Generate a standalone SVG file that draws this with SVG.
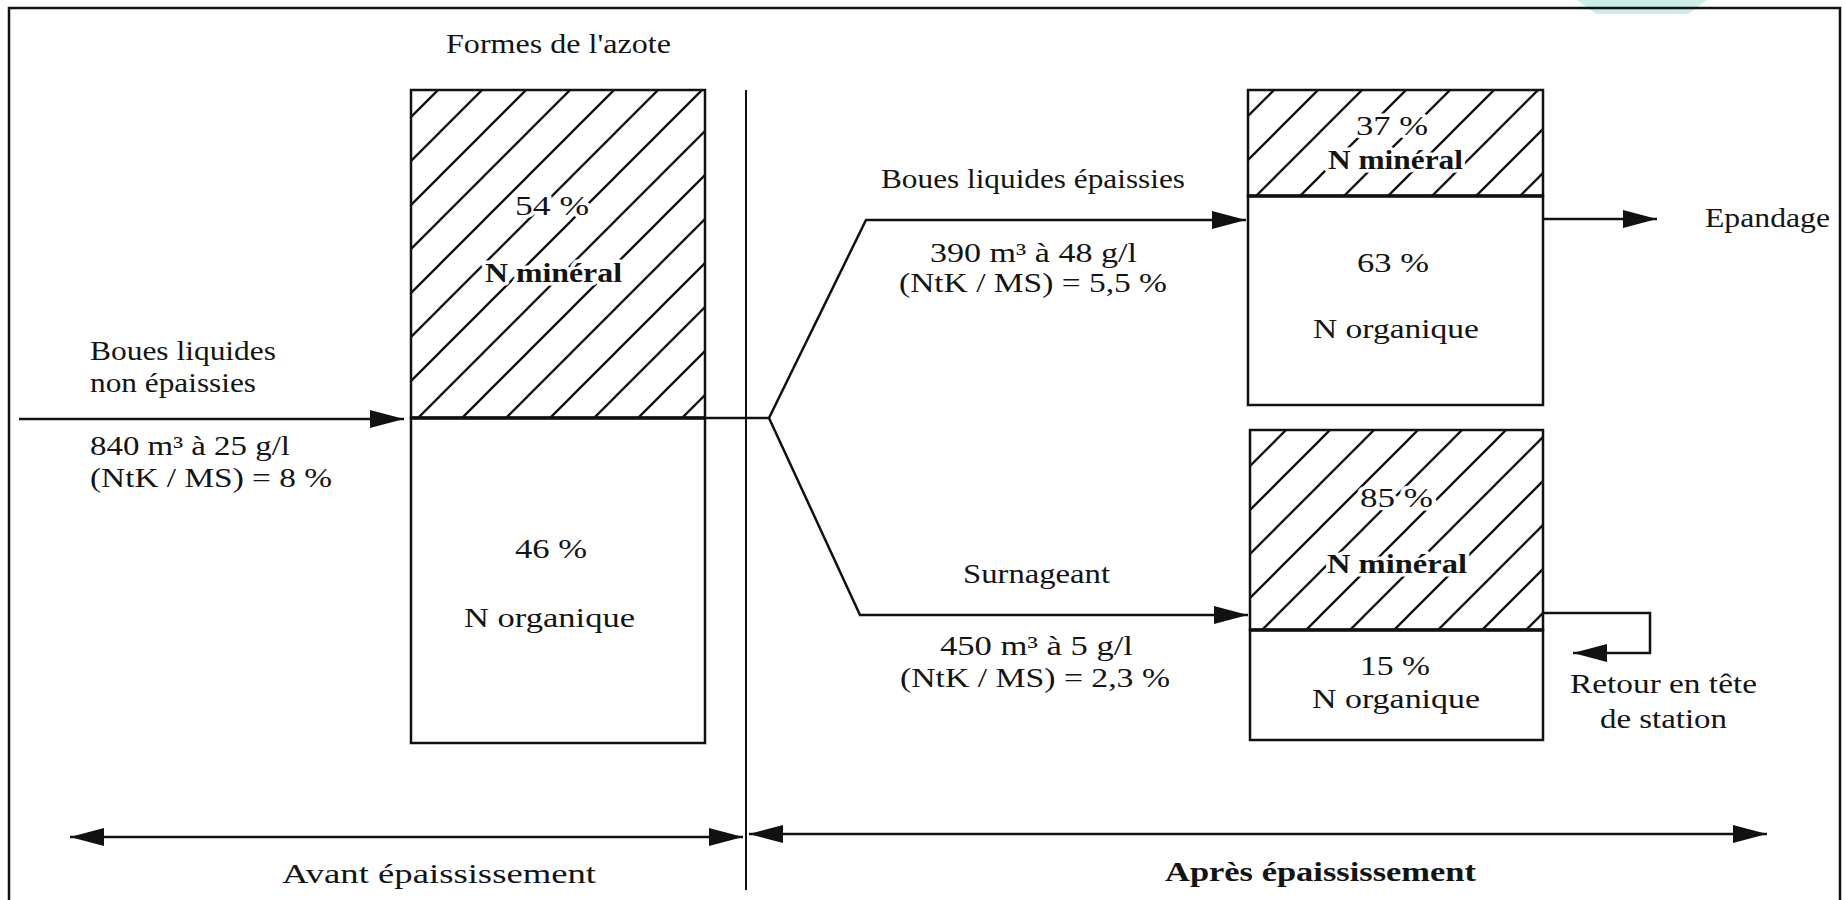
<svg xmlns="http://www.w3.org/2000/svg" width="1845" height="900" viewBox="0 0 1845 900">
<style>
.t{font-family:"Liberation Serif","Times New Roman",serif;font-size:27px;fill:#141414}
.b{font-weight:bold}
.h{paint-order:stroke;stroke:#fff;stroke-width:7px;stroke-linejoin:round}
.box{fill:#fff;stroke:#111;stroke-width:2.5}
.hat{fill:url(#hatch);stroke:#111;stroke-width:2.5}
.sep{stroke:#111;stroke-width:3.5}
.ln{fill:none;stroke:#111;stroke-width:2.5}
</style>
<defs>
<pattern id="hatch" patternUnits="userSpaceOnUse" width="44" height="44">
<rect width="44" height="44" fill="#fff"/>
<path d="M0,44 L44,0 M-11,11 L11,-11 M33,55 L55,33" stroke="#111" stroke-width="2.3"/>
</pattern>
<marker id="ah" markerUnits="userSpaceOnUse" markerWidth="36" markerHeight="18" refX="34" refY="9" orient="auto-start-reverse">
<path d="M0,0 L34,9 L0,18 z" fill="#111"/>
</marker>
</defs>
<rect width="1845" height="900" fill="#fff"/>
<polygon points="1577,0 1707,0 1688,14 1596,14" fill="#cdeee6"/>
<rect x="9" y="8" width="1831" height="920" fill="none" stroke="#111" stroke-width="2.5"/>
<line x1="746" y1="90" x2="746" y2="890" stroke="#111" stroke-width="2"/>
<text class="t" x="446" y="53" textLength="225" lengthAdjust="spacingAndGlyphs">Formes de l'azote</text>

<g id="box-avant">
<rect class="hat" x="411" y="90" width="294" height="328"/>
<rect class="box" x="411" y="418" width="294" height="325"/>
<line class="sep" x1="411" y1="418" x2="705" y2="418"/>
<text class="t h" x="515" y="215" textLength="74" lengthAdjust="spacingAndGlyphs">54 %</text>
<text class="t b h" x="485" y="282" textLength="137" lengthAdjust="spacingAndGlyphs">N minéral</text>
<text class="t" x="515" y="558" textLength="72" lengthAdjust="spacingAndGlyphs">46 %</text>
<text class="t" x="464" y="627" textLength="171" lengthAdjust="spacingAndGlyphs">N organique</text>
</g>

<g id="box-boues">
<rect class="hat" x="1248" y="90" width="295" height="106"/>
<rect class="box" x="1248" y="196" width="295" height="209"/>
<line class="sep" x1="1248" y1="196" x2="1543" y2="196"/>
<text class="t h" x="1356" y="135" textLength="72" lengthAdjust="spacingAndGlyphs">37 %</text>
<text class="t b h" x="1328" y="169" textLength="135" lengthAdjust="spacingAndGlyphs">N minéral</text>
<text class="t" x="1357" y="272" textLength="72" lengthAdjust="spacingAndGlyphs">63 %</text>
<text class="t" x="1313" y="338" textLength="166" lengthAdjust="spacingAndGlyphs">N organique</text>
</g>

<g id="box-surnageant">
<rect class="hat" x="1250" y="430" width="293" height="200"/>
<rect class="box" x="1250" y="630" width="293" height="110"/>
<line class="sep" x1="1250" y1="630" x2="1543" y2="630"/>
<text class="t h" x="1360" y="507" textLength="73" lengthAdjust="spacingAndGlyphs">85 %</text>
<text class="t b h" x="1327" y="573" textLength="140" lengthAdjust="spacingAndGlyphs">N minéral</text>
<text class="t" x="1360" y="675" textLength="70" lengthAdjust="spacingAndGlyphs">15 %</text>
<text class="t" x="1312" y="708" textLength="168" lengthAdjust="spacingAndGlyphs">N organique</text>
</g>

<g id="labels">
<text class="t" x="90" y="360" textLength="186" lengthAdjust="spacingAndGlyphs">Boues liquides</text>
<text class="t" x="90" y="392" textLength="166" lengthAdjust="spacingAndGlyphs">non épaissies</text>
<text class="t" x="90" y="455" textLength="200" lengthAdjust="spacingAndGlyphs">840 m³ à 25 g/l</text>
<text class="t" x="90" y="487" textLength="242" lengthAdjust="spacingAndGlyphs">(NtK / MS) = 8 %</text>
<text class="t" x="881" y="188" textLength="304" lengthAdjust="spacingAndGlyphs">Boues liquides épaissies</text>
<text class="t" x="930" y="262" textLength="207" lengthAdjust="spacingAndGlyphs">390 m³ à 48 g/l</text>
<text class="t" x="899" y="292" textLength="268" lengthAdjust="spacingAndGlyphs">(NtK / MS) = 5,5 %</text>
<text class="t" x="1705" y="227" textLength="125" lengthAdjust="spacingAndGlyphs">Epandage</text>
<text class="t" x="963" y="583" textLength="147" lengthAdjust="spacingAndGlyphs">Surnageant</text>
<text class="t" x="940" y="655" textLength="193" lengthAdjust="spacingAndGlyphs">450 m³ à 5 g/l</text>
<text class="t" x="900" y="687" textLength="270" lengthAdjust="spacingAndGlyphs">(NtK / MS) = 2,3 %</text>
<text class="t" x="1570" y="693" textLength="187" lengthAdjust="spacingAndGlyphs">Retour en tête</text>
<text class="t" x="1600" y="728" textLength="127" lengthAdjust="spacingAndGlyphs">de station</text>
<text class="t" x="282" y="883" textLength="314" lengthAdjust="spacingAndGlyphs">Avant épaississement</text>
<text class="t b" x="1165" y="881" textLength="311" lengthAdjust="spacingAndGlyphs">Après épaississement</text>
</g>

<g id="connectors">
<line class="ln" x1="19" y1="419" x2="404" y2="419" marker-end="url(#ah)"/>
<line class="ln" x1="705" y1="418" x2="769" y2="418"/>
<polyline class="ln" points="769,418 866,220 1246,220" marker-end="url(#ah)"/>
<polyline class="ln" points="769,418 860,615 1248,615" marker-end="url(#ah)"/>
<line class="ln" x1="1543" y1="219" x2="1657" y2="219" marker-end="url(#ah)"/>
<polyline class="ln" points="1543,613 1650,613 1650,653 1573,653" marker-end="url(#ah)"/>
<line class="ln" x1="70" y1="837" x2="743" y2="837" marker-start="url(#ah)" marker-end="url(#ah)"/>
<line class="ln" x1="749" y1="834" x2="1767" y2="834" marker-start="url(#ah)" marker-end="url(#ah)"/>
</g>
</svg>
